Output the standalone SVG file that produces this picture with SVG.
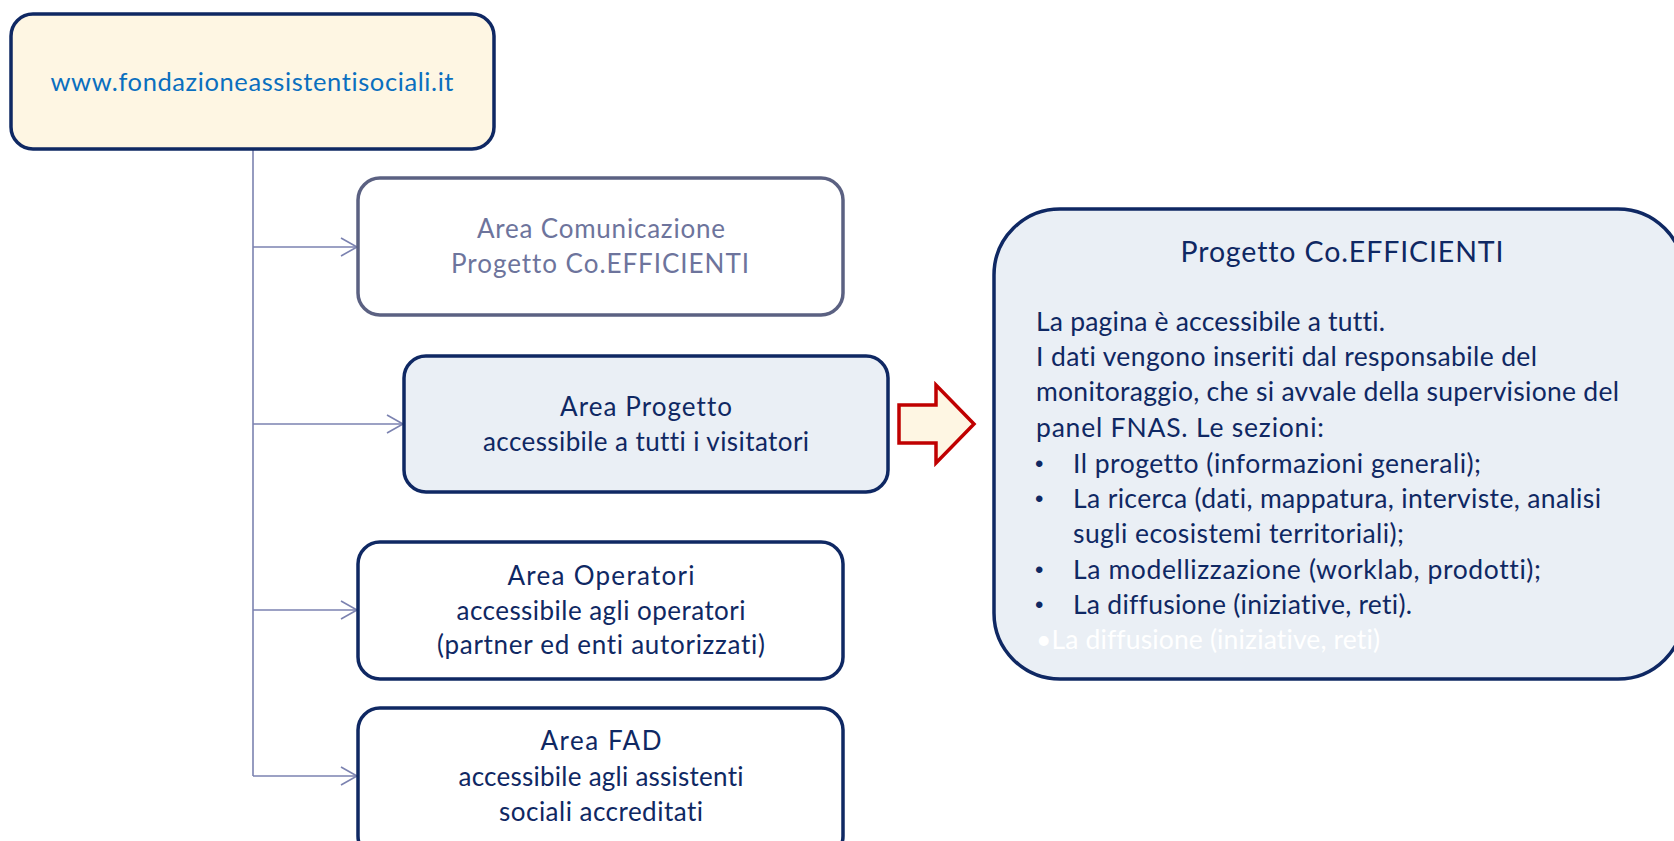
<svg xmlns="http://www.w3.org/2000/svg" width="1674" height="841" viewBox="0 0 1674 841">
<defs>
<marker id="chev" markerUnits="userSpaceOnUse" markerWidth="22" markerHeight="22" refX="18" refY="10" orient="auto">
<path d="M2,1 L18,10 L2,19" fill="none" stroke="#7b82b0" stroke-width="1.6"/>
</marker>
<style>
text{font-variant-ligatures:none;font-feature-settings:"liga" 0,"clig" 0,"dlig" 0}
.box{stroke:#0f2863;stroke-width:3.5}
.t{font-family:Lato,"Liberation Sans",sans-serif;fill:#0f2863;text-anchor:middle}
.b{font-family:Lato,"Liberation Sans",sans-serif;fill:#0f2863;font-size:26.5px}
.bul{font-family:"Liberation Sans",sans-serif;fill:#0f2863;font-size:24px}
.conn{stroke:#7b82b0;stroke-width:1.6;fill:none}
</style>
</defs>
<rect width="1674" height="841" fill="#ffffff"/>
<g id="connectors">
<path class="conn" d="M253,149 V776"/>
<path class="conn" d="M253,247 H357" marker-end="url(#chev)"/>
<path class="conn" d="M253,424 H403" marker-end="url(#chev)"/>
<path class="conn" d="M253,610 H357" marker-end="url(#chev)"/>
<path class="conn" d="M253,776 H357" marker-end="url(#chev)"/>
</g>
<g id="node-site">
<rect class="box" x="11" y="14" width="483" height="135" rx="22" fill="#fef6e3"/>
<text class="t" x="252" y="91" font-size="25.5" textLength="403" lengthAdjust="spacing" style="fill:#0a6fbf">www.fondazioneassistentisociali.it</text>
</g>
<g id="node-comunicazione">
<rect x="358" y="178" width="485" height="137" rx="22" fill="#ffffff" stroke="#5b6182" stroke-width="3.5"/>
<text class="t" x="601" y="238" font-size="26" textLength="248" lengthAdjust="spacing" style="fill:#6d749c">Area Comunicazione</text>
<text class="t" x="600" y="273" font-size="26" textLength="298" lengthAdjust="spacing" style="fill:#6d749c">Progetto Co.EFFICIENTI</text>
</g>
<g id="node-progetto">
<rect class="box" x="404" y="356" width="484" height="136" rx="22" fill="#eaeff5"/>
<text class="t" x="646" y="416" font-size="26" textLength="172" lengthAdjust="spacing">Area Progetto</text>
<text class="t" x="646" y="451" font-size="26" textLength="326" lengthAdjust="spacing">accessibile a tutti i visitatori</text>
</g>
<g id="node-operatori">
<rect class="box" x="358" y="542" width="485" height="137" rx="22" fill="#ffffff"/>
<text class="t" x="601" y="585" font-size="26" textLength="187" lengthAdjust="spacing">Area Operatori</text>
<text class="t" x="601" y="620" font-size="26" textLength="289" lengthAdjust="spacing">accessibile agli operatori</text>
<text class="t" x="601" y="654" font-size="26" textLength="328" lengthAdjust="spacing">(partner ed enti autorizzati)</text>
</g>
<g id="node-fad">
<rect class="box" x="358" y="708" width="485" height="150" rx="22" fill="#ffffff"/>
<text class="t" x="601" y="750" font-size="26" textLength="121" lengthAdjust="spacing">Area FAD</text>
<text class="t" x="601" y="786" font-size="26" textLength="285" lengthAdjust="spacing">accessibile agli assistenti</text>
<text class="t" x="601" y="821" font-size="26" textLength="204" lengthAdjust="spacing">sociali accreditati</text>
</g>
<g id="block-arrow">
<path d="M899,405 H936 V385 L974,424 L936,463 V443 H899 Z" fill="#fef6e3" stroke="#c00000" stroke-width="3.5" stroke-linejoin="miter"/>
</g>
<g id="node-detail">
<rect class="box" x="994" y="209" width="690" height="470" rx="66" fill="#eaeff5"/>
<text class="t" x="1342" y="262" font-size="28.5" textLength="323" lengthAdjust="spacing">Progetto Co.EFFICIENTI</text>
<text class="b" x="1036" y="331" textLength="349" lengthAdjust="spacing">La pagina è accessibile a tutti.</text>
<text class="b" x="1036" y="366" textLength="501" lengthAdjust="spacing">I dati vengono inseriti dal responsabile del</text>
<text class="b" x="1036" y="401" textLength="583" lengthAdjust="spacing">monitoraggio, che si avvale della supervisione del</text>
<text class="b" x="1036" y="437" textLength="288" lengthAdjust="spacing">panel FNAS. Le sezioni:</text>
<text class="bul" x="1035" y="472">•</text>
<text class="b" x="1073" y="473" textLength="408" lengthAdjust="spacing">Il progetto (informazioni generali);</text>
<text class="bul" x="1035" y="507">•</text>
<text class="b" x="1073" y="508" textLength="528" lengthAdjust="spacing">La ricerca (dati, mappatura, interviste, analisi</text>
<text class="b" x="1073" y="543" textLength="331" lengthAdjust="spacing">sugli ecosistemi territoriali);</text>
<text class="bul" x="1035" y="578">•</text>
<text class="b" x="1073" y="579" textLength="468" lengthAdjust="spacing">La modellizzazione (worklab, prodotti);</text>
<text class="bul" x="1035" y="613">•</text>
<text class="b" x="1073" y="614" textLength="339" lengthAdjust="spacing">La diffusione (iniziative, reti).</text>
<text class="b" x="1036" y="649" textLength="344" lengthAdjust="spacing" style="fill:#ffffff">•La diffusione (iniziative, reti)</text>
</g>
</svg>
